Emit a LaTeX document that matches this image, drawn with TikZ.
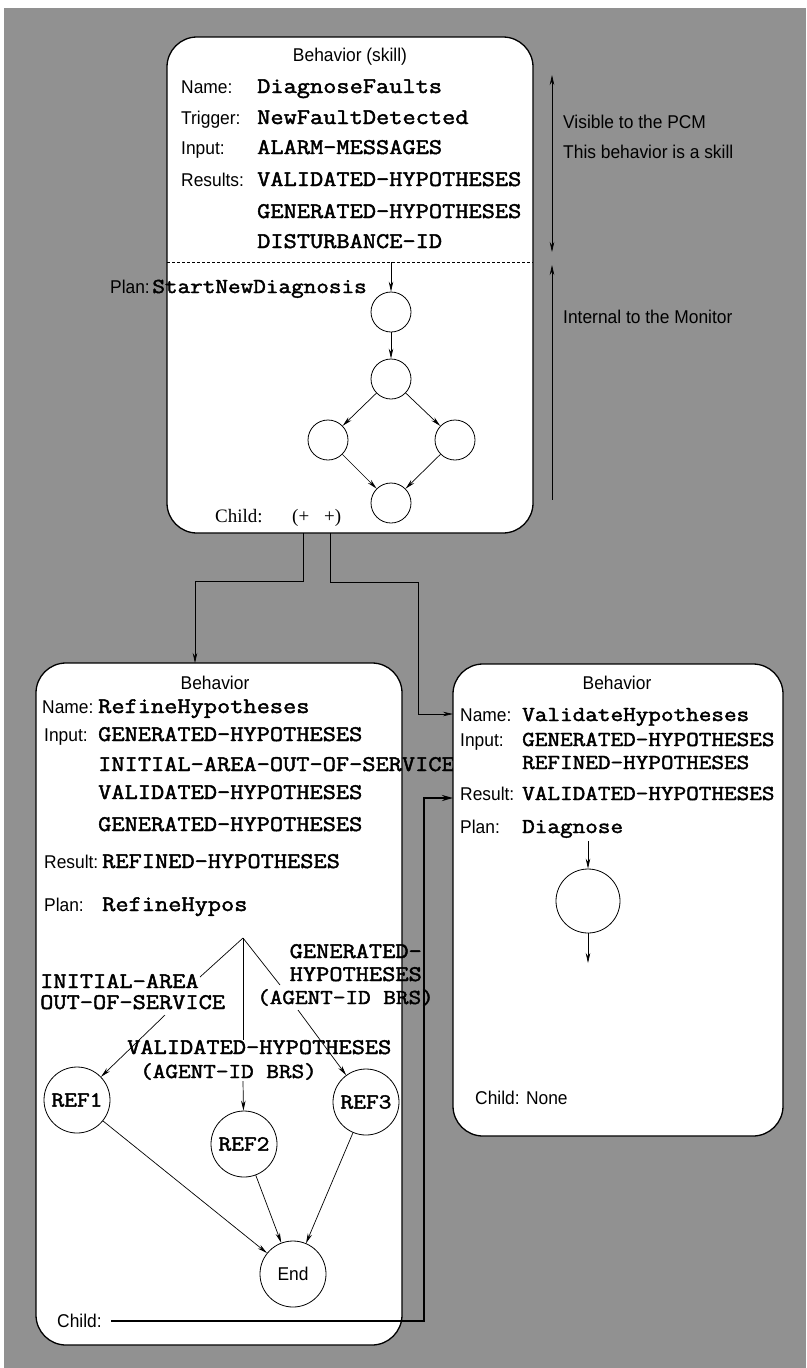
\documentclass[tikz,border=0pt]{standalone}
\usepackage{fontspec}
\setmainfont{Liberation Serif}
\newfontfamily\hsans{Liberation Sans}[FakeStretch=0.94]
\newfontfamily\cour{Latin Modern Mono}[FakeStretch=1.15, FakeBold=2]
\usetikzlibrary{arrows.meta}
\definecolor{halftone}{gray}{0.57}
\begin{document}
\begin{tikzpicture}[x=1pt,y=-1pt,
  box/.style={draw, fill=white, line width=1.3pt, rounded corners=30pt, inner sep=0pt},
  lbl/.style={font=\hsans\fontsize{18.5}{21}\selectfont, anchor=base west, inner sep=0pt},
  ttl/.style={font=\hsans\fontsize{18.5}{21}\selectfont, anchor=base, inner sep=0pt},
  mono/.style={font=\cour\fontsize{22.3}{24}\selectfont, anchor=base west, inner sep=0pt},
  monos/.style={font=\cour\fontsize{21.3}{23}\selectfont, anchor=base west, inner sep=0pt},
  sc/.style={circle, draw, fill=white, line width=0.8pt, minimum size=40pt, inner sep=0pt},
  bc/.style={circle, draw, fill=white, line width=0.8pt, minimum size=66pt, inner sep=0pt},
  conn/.style={line width=0.7pt},
  arr/.style={conn, -{Stealth[length=10pt,width=4.5pt]}},
  thickarr/.style={line width=2.4pt, -{Stealth[length=11pt,width=6pt]}}
]
\fill[white] (0,0) rectangle (806,1368);
\useasboundingbox (0,0) rectangle (806,1368);
\fill[halftone] (4,8) rectangle (806,1368);

% ---------- top box ----------
\node[box, minimum width=366pt, minimum height=496pt] (topbox) at (350,285) {};
\node[ttl] (t-title) at (350,61) {Behavior (skill)};
\node[lbl] (t-name) at (181,93) {Name:};
\node[mono] (t-namev) at (257,93) {DiagnoseFaults};
\node[lbl] (t-trig) at (181,124) {Trigger:};
\node[mono] (t-trigv) at (257,124) {NewFaultDetected};
\node[lbl] (t-in) at (181,154) {Input:};
\node[mono] (t-inv) at (257,154) {ALARM-MESSAGES};
\node[lbl] (t-res) at (181,186) {Results:};
\node[mono] (t-res1) at (257,186) {VALIDATED-HYPOTHESES};
\node[mono] (t-res2) at (257,218) {GENERATED-HYPOTHESES};
\node[mono] (t-res3) at (257,248) {DISTURBANCE-ID};
\coordinate (dl) at (167,262);
\coordinate (dr) at (533,262);
\draw[conn, dash pattern=on 3pt off 2pt] (dl) -- (dr);
\node[lbl, anchor=base east] (t-plan) at (150,293) {Plan:};
\node[monos, anchor=base east] (t-planv) at (367,293) {StartNewDiagnosis};
\node[font=\fontsize{19}{22}\selectfont, anchor=base west, inner sep=0pt] (t-child) at (215,522) {Child:};
\node[font=\fontsize{19}{22}\selectfont, anchor=base west, inner sep=0pt] (t-childv) at (292,522) {(+\hspace{15pt}+)};

\node[sc] (c1) at (391,312) {};
\node[sc] (c2) at (391,379) {};
\node[sc] (c3) at (328,440) {};
\node[sc] (c4) at (455,440) {};
\node[sc] (c5) at (391,503) {};
\coordinate (pin) at (391,262);
\draw[arr] (pin) -- (c1);
\draw[arr] (c1) -- (c2);
\draw[arr] (c2) -- (c3);
\draw[arr] (c2) -- (c4);
\draw[arr] (c3) -- (c5);
\draw[arr] (c4) -- (c5);

% ---------- right annotations ----------
\coordinate (v1) at (552,75);
\coordinate (v2) at (552,252);
\coordinate (v3) at (552,265);
\coordinate (v4) at (552,500);
\draw[conn, {Stealth[length=10pt,width=4.5pt]}-{Stealth[length=10pt,width=4.5pt]}] (v1) -- (v2);
\draw[conn, {Stealth[length=10pt,width=4.5pt]}-] (v3) -- (v4);
\node[lbl] (a1) at (563,128) {Visible to the PCM};
\node[lbl] (a2) at (563,158) {This behavior is a skill};
\node[lbl] (a3) at (563,323) {Internal to the Monitor};

% ---------- left box ----------
\node[box, minimum width=366pt, minimum height=682pt] (leftbox) at (219,1004) {};
\node[ttl] (l-title) at (215,689) {Behavior};
\node[lbl] (l-name) at (42,713) {Name:};
\node[mono] (l-namev) at (98,713) {RefineHypotheses};
\node[lbl] (l-in) at (44,741) {Input:};
\node[mono] (l-in1) at (98,741) {GENERATED-HYPOTHESES};
\node[mono] (l-in2) at (98,771) {INITIAL-AREA-OUT-OF-SERVICE};
\node[mono] (l-in3) at (98,799) {VALIDATED-HYPOTHESES};
\node[mono] (l-in4) at (98,831) {GENERATED-HYPOTHESES};
\node[lbl] (l-res) at (44,868) {Result:};
\node[mono] (l-resv) at (102,868) {REFINED-HYPOTHESES};
\node[lbl] (l-plan) at (44,911) {Plan:};
\node[mono] (l-planv) at (102,911) {RefineHypos};

\node[bc, font=\cour\fontsize{21.5}{23}\selectfont] (ref1) at (77,1100) {REF1};
\node[bc, font=\cour\fontsize{21.5}{23}\selectfont] (ref2) at (244,1144) {REF2};
\node[bc, font=\cour\fontsize{21.5}{23}\selectfont] (ref3) at (366,1102) {REF3};
\node[bc, font=\hsans\fontsize{18.5}{21}\selectfont] (end) at (293,1274) {End};

\node[mono] (g-ia1) at (40,988) {INITIAL-AREA};
\node[mono] (g-ia2) at (40,1009) {OUT-OF-SERVICE};
\node[mono] (g-vh1) at (127,1054) {VALIDATED-HYPOTHESES};
\node[monos] (g-vh2) at (140,1078) {(AGENT-ID BRS)};
\node[mono, anchor=base east] (g-gh1) at (422,958) {GENERATED-};
\node[mono, anchor=base east] (g-gh2) at (422,981) {HYPOTHESES};
\node[monos, anchor=base east] (g-gh3) at (434,1004) {(AGENT-ID BRS)};

\coordinate (apex) at (243,938);
\coordinate (la1) at (200,977);
\coordinate (la2) at (165,1015);
\coordinate (lm1) at (243,1040);
\coordinate (lm2) at (243,1081);
\coordinate (lr1) at (280,985);
\coordinate (lr2) at (298,1010);
\draw[conn] (apex) -- (la1);
\draw[arr] (la2) -- (ref1);
\draw[conn] (apex) -- (lm1);
\draw[arr] (lm2) -- (ref2);
\draw[conn] (apex) -- (lr1);
\draw[arr] (lr2) -- (ref3);
\draw[arr] (ref1) -- (end);
\draw[arr] (ref2) -- (end);
\draw[arr] (ref3) -- (end);

\node[lbl] (l-child) at (57,1327) {Child:};

% ---------- right box ----------
\node[box, minimum width=330pt, minimum height=472pt] (rightbox) at (618,900) {};
\node[ttl] (r-title) at (617,689) {Behavior};
\node[lbl] (r-name) at (460,721) {Name:};
\node[monos] (r-namev) at (522,721) {ValidateHypotheses};
\node[lbl] (r-in) at (460,746) {Input:};
\node[monos] (r-in1) at (522,746) {GENERATED-HYPOTHESES};
\node[monos] (r-in2) at (522,769) {REFINED-HYPOTHESES};
\node[lbl] (r-res) at (460,800) {Result:};
\node[monos] (r-resv) at (522,800) {VALIDATED-HYPOTHESES};
\node[lbl] (r-plan) at (460,833) {Plan:};
\node[monos] (r-planv) at (522,833) {Diagnose};
\node[bc, minimum size=64pt] (dg) at (588,901) {};
\coordinate (dgin) at (588,841);
\coordinate (dgout) at (588,963);
\draw[arr] (dgin) -- (dg);
\draw[arr] (dg) -- (dgout);
\node[lbl] (r-child) at (475,1104) {Child: None};

% ---------- connectors between boxes ----------
\coordinate (ca) at (303,533);
\coordinate (cb) at (195,663);
\draw[arr] (ca) |- (195,581) -- (cb);
\coordinate (cc) at (330,533);
\coordinate (cd) at (453,714);
\draw[arr] (cc) |- (418,582) |- (cd);
\coordinate (chs) at (111,1321);
\coordinate (che) at (453,798);
\draw[thickarr] (chs) -| (424,798) -- (che);
\end{tikzpicture}
\end{document}
